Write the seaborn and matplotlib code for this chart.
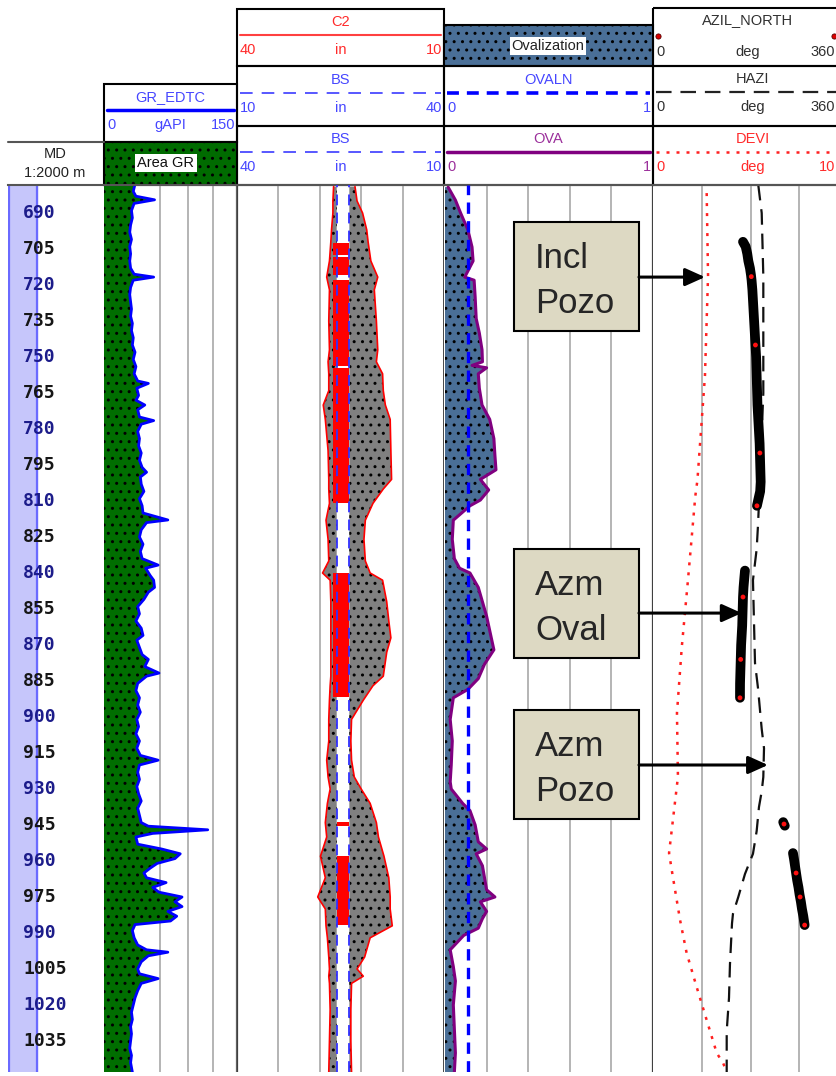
import numpy as np
import pandas as pd
import seaborn as sns
import matplotlib.pyplot as plt
import matplotlib.patches as mpatches
import matplotlib.transforms as mtransforms

sns.set_style('white')
plt.rcParams['font.family'] = ['Liberation Sans', 'DejaVu Sans']
plt.rcParams['hatch.linewidth'] = 1.0

W, H = 837, 1076
Y0, Y1 = 185, 1072            # image rows of the log area
TOP, BOT = 678.33, 1047.92    # measured depth at those rows

depth_ticks = [690, 705, 720, 735, 750, 765, 780, 795, 810, 825, 840, 855,
               870, 885, 900, 915, 930, 945, 960, 975, 990, 1005, 1020, 1035]

# GR_EDTC (gAPI)
gr_md = [678, 681, 683, 684.5, 686, 689, 692, 695, 698, 701, 704, 707, 710, 713, 715.5, 716.7, 718,
         721, 724, 727, 730, 733, 736, 739, 742, 745, 748, 751, 754, 757, 760, 761, 763, 766, 768,
         770, 772, 775, 776.5, 778, 781, 784, 787, 790, 793, 796, 798, 800, 803, 806, 809, 812, 815,
         817.9, 819, 822, 825, 828, 831, 834, 836.7, 838, 841, 843, 846, 848, 851, 854, 857, 860,
         863, 866, 868, 871, 874, 876, 879, 881.7, 883, 886, 889, 892, 895, 898, 901, 904, 907, 910,
         913, 916, 918, 920, 923, 926, 929, 932, 935, 938, 941, 944, 945.5, 947, 948.5, 950, 953,
         955, 957, 959, 961, 963, 965, 967, 969, 971, 973, 975, 977, 979, 981, 983, 985, 986.5, 989,
         992, 995, 997, 998, 999.5, 1002, 1005, 1007, 1009, 1011, 1014, 1017, 1020, 1023, 1026, 1029,
         1032, 1035, 1038, 1041, 1044, 1048]
gr_api = [35, 33, 36, 57, 34, 31, 32, 30, 29, 31, 29, 30, 29, 30, 34, 56, 33,
          30, 29, 30, 31, 30, 32, 31, 33, 32, 35, 33, 36, 34, 38, 50, 37, 39, 36,
          46, 38, 40, 56, 42, 38, 40, 39, 42, 40, 43, 48, 41, 42, 45, 40, 43, 44,
          72, 48, 42, 40, 44, 41, 43, 61, 47, 52, 56, 57, 50, 45, 38, 40, 36,
          42, 44, 37, 40, 43, 50, 46, 62, 48, 38, 36, 40, 38, 41, 37, 39, 36, 40,
          37, 41, 61, 40, 38, 40, 37, 39, 42, 38, 40, 42, 50, 117, 55, 36, 38,
          65, 86, 80, 60, 52, 45, 48, 70, 55, 62, 88, 80, 88, 72, 82, 75, 35, 32,
          34, 38, 48, 72, 50, 42, 38, 40, 61, 42, 38, 35, 33, 31, 32, 30,
          31, 30, 29, 31, 30, 32]
gr_grid = [63, 95, 123]

# Caliper track (in), left and right borehole walls
cal_md = [679, 685, 690, 697, 702, 710, 716.7, 722, 735, 747, 752, 757, 764, 770, 776, 789, 801,
          805, 811, 818, 826, 835, 840, 843, 852, 860, 867, 873, 883, 887, 893, 901, 910, 918, 925,
          930, 936, 944, 950, 958, 967, 975, 980, 987, 992, 1000, 1005, 1008, 1011, 1022, 1035, 1048]
cal_left = [24.0, 23.9, 23.9, 23.7, 23.6, 23.4, 23.0, 23.4, 23.3, 23.4, 23.2, 23.3, 23.3, 22.5, 22.8,
            23.2, 23.3, 23.3, 23.4, 22.9, 23.2, 23.3, 22.4, 23.5, 23.6, 23.6, 23.6, 23.6, 23.6, 23.5,
            23.4, 23.3, 23.3, 23.0, 23.2, 23.5, 23.1, 22.8, 23.0, 22.1, 22.8, 21.7, 22.8, 22.9, 23.1,
            23.3, 23.4, 23.3, 23.4, 23.5, 23.4, 23.3]
cal_right = [27.1, 27.4, 28.2, 28.8, 29.0, 29.4, 30.4, 29.9, 30.2, 30.4, 30.2, 31.1, 31.2, 31.5, 32.2,
             32.3, 32.4, 31.2, 29.7, 28.6, 28.4, 28.6, 29.3, 31.1, 31.7, 32.0, 32.3, 31.7, 31.2, 29.7,
             28.3, 26.6, 26.5, 26.6, 27.0, 28.0, 29.3, 30.2, 30.5, 31.3, 32.0, 32.2, 32.2, 32.5, 29.3,
             28.5, 27.4, 28.3, 26.6, 26.5, 26.5, 26.6]
bs_left, bs_right = 24.45, 26.28
cal_grid = [16, 22, 28, 34]
wash_top = [702.5, 708.4, 717.9, 754.4, 840.0, 943.7, 957.9]
wash_bot = [707.6, 715.8, 753.6, 810.8, 891.7, 945.3, 986.7]
wash_left = [23.87, 23.87, 23.87, 23.87, 23.87, 24.45, 24.45]

# Ovalization
ova_md = [679.2, 684.6, 690, 697, 704.2, 710, 716.7, 718, 725, 734, 740, 747, 752, 753.5, 754.5, 757,
          763, 770, 776, 784, 791, 797, 801, 805.4, 809.6, 812, 818, 826, 834, 838, 840, 846, 852, 858,
          866, 872, 878, 884, 888.5, 892, 901, 910, 920, 927, 930, 936, 939, 945, 952, 955, 957, 962,
          972, 975, 977, 981, 984, 988, 991, 997, 1004, 1010, 1020, 1030, 1040, 1048]
ova = [.015, .05, .075, .11, .13, .135, .095, .14, .145, .15, .165, .178, .18, .13, .2, .16,
       .165, .178, .215, .235, .24, .245, .17, .21, .17, .12, .04, .035, .045, .07, .12, .16, .18, .2,
       .22, .235, .19, .16, .11, .04, .025, .035, .03, .025, .03, .085, .12, .145, .16, .2, .15, .18,
       .2, .24, .17, .2, .18, .16, .09, .025, .04, .05, .04, .045, .05, .045]
ovaln = 0.11
ova_grid = [0.2, 0.4, 0.6, 0.8]

# Deviation (deg, 0-10) and azimuths (deg, 0-360)
devi_md = [681.7, 716.3, 757.9, 801.3, 808, 842.9, 870.8, 898.3, 925, 942.9, 956.7, 963.8, 984.6,
           998.3, 1012.5, 1026.3, 1040, 1044.2, 1048]
devi = [2.73, 2.80, 2.64, 2.25, 2.14, 1.76, 1.44, 1.19, 1.24, 0.98, 0.78, 0.92, 1.35, 1.69, 2.21,
        2.73, 3.25, 3.58, 3.78]
hazi_md = [678.3, 690, 716.3, 765, 801.3, 820, 830, 843, 877.5, 888, 905, 913, 925, 931, 937.5,
           947.5, 957, 965.4, 975, 982, 986, 1003, 1017, 1031, 1048]
hazi = [194.5, 200.9, 203.9, 203.9, 197.7, 194, 191.5, 184.6, 188.4, 194, 200.9, 205.2, 203.9, 200.9,
        195.8, 191.5, 184.6, 169.7, 157.2, 147.3, 145.5, 141.7, 139.9, 135.6, 135.6]
azil_md = [702, 704, 707, 710, 713, 716, 718, 722, 726, 730, 734, 738, 742, 746, 750, 754, 758, 762,
           766, 770, 774, 778, 782, 786, 790, 794, 798, 802, 806, 809, 812, np.nan,
           839, 842, 846, 850, 854, 858, 862, 866, 870, 874, 878, 882, 886, 890, 892, np.nan,
           943.8, 944.6, 945.3, np.nan,
           956.7, 959, 962, 965, 968, 971, 974, 977, 980, 983, 986.7]
azil = [166, 171, 174, 176, 179, 181, 182, 183.5, 184.5, 185.5, 186.5, 187.5, 188.5, 189.5, 190.5,
        191, 191.5, 192, 192.5, 193, 194, 195, 196, 197, 197.5, 198, 198.5, 199, 198, 195, 192, np.nan,
        169.7, 168.5, 167, 166, 165.5, 165, 164.5, 163.5, 162.5, 162, 161.5, 161, 160.5, 160.4, 160.4,
        np.nan, 241, 242.5, 244, np.nan,
        259.2, 261, 263, 265, 267, 269.5, 271.5, 274, 276, 278.5, 281]
azil_red_md = [716.5, 745, 790, 812, 850, 876, 892, 944.6, 965, 975, 986.7]
azil_red = [181.5, 189.2, 197.5, 192, 166, 161.7, 160.4, 242.5, 265, 272.5, 281]
az_grid = [90, 180, 270]

# call-out boxes: label lines, target track, target value, target depth
notes = [('Incl', 'Pozo', 'devi', 2.64, 716.7),
         ('Azm', 'Oval', 'az', 163.6, 856.7),
         ('Azm', 'Pozo', 'az', 212.6, 920.0)]
note_rows = [222, 549, 710]

gr = pd.DataFrame({'md': gr_md, 'gr': gr_api})
cal = pd.DataFrame({'md': cal_md, 'left': cal_left, 'right': cal_right})
ovd = pd.DataFrame({'md': ova_md, 'ova': ova})
dev = pd.DataFrame({'md': devi_md, 'devi': devi})
haz = pd.DataFrame({'md': hazi_md, 'hazi': hazi})

BLUE_T = '#4646ff'
RED_T = '#ff2a2a'
PURP_T = '#9b2f9b'
GRID = '#b4b4b4'

fig = plt.figure(figsize=(W / 100, H / 100), dpi=100)

# ---- header, drawn in image pixels
hdr = fig.add_axes([0, 0, 1, 1])
hdr.set_xlim(0, W)
hdr.set_ylim(H, 0)
hdr.axis('off')


def box(x, y, w, h, **kw):
    kw.setdefault('fill', False)
    hdr.add_patch(mpatches.Rectangle((x, y), w, h, ec='black', lw=1.5, **kw))


def htxt(x, y, s, color='#303030', ha='center', **kw):
    hdr.text(x, y, s, color=color, ha=ha, va='center', fontsize=10.5, **kw)


def hrow(x0, x1, y, name, color, line_kw, lo, unit, hi, hi_x=None):
    htxt((x0 + x1) / 2, y + 13, name, color)
    hdr.plot([x0 + 3, x1 - 3], [y + 26, y + 26], color=line_kw.pop('color', color), **line_kw)
    htxt(x0 + 3, y + 41, lo, color, ha='left')
    if unit:
        htxt((x0 + x1) / 2, y + 41, unit, color)
    htxt(hi_x if hi_x else x1 - 2, y + 41, hi, color, ha='right')


# depth header
hdr.plot([8, 104], [142, 142], color='#555555', lw=1.5)
htxt(55, 154, 'MD', '#222222')
htxt(55, 173, '1:2000 m', '#222222')

# GR header
box(104, 84, 133, 58)
hrow(104, 237, 84, 'GR_EDTC', BLUE_T, dict(color='#0000ff', lw=2.5), '0', 'gAPI', '150')
box(104, 142, 133, 43, fill=True, fc='#006b00', hatch='..')
htxt(166, 163, 'Area GR', '#111111', bbox=dict(fc='white', ec='none', pad=1.5))

# caliper header
for y, h in [(9, 57), (66, 60), (126, 59)]:
    box(237, y, 207, h)
hrow(237, 444, 9, 'C2', RED_T, dict(color='#ff4040', lw=1.5), '40', 'in', '10')
hrow(237, 444, 67, 'BS', BLUE_T, dict(color='#4a4aff', lw=1.3, ls=(0, (7, 5))), '10', 'in', '40')
hrow(237, 444, 126, 'BS', BLUE_T, dict(color='#4a4aff', lw=1.3, ls=(0, (7, 5))), '40', 'in', '10')

# ovalization header
box(444, 25, 209, 41, fill=True, fc='#4a6f97', hatch='..')
htxt(548, 46, 'Ovalization', '#222222', bbox=dict(fc='white', ec='none', pad=1.5))
box(444, 66, 209, 60)
box(444, 126, 209, 59)
hrow(444, 653, 67, 'OVALN', BLUE_T, dict(color='#0000ff', lw=2.6, ls=(0, (3.3, 2.2))), '0', '', '1')
hrow(444, 653, 126, 'OVA', PURP_T, dict(color='#800080', lw=2.5), '0', '', '1')

# azimuth header (its box runs past the right edge)
for y, h in [(8, 58), (66, 60), (126, 59)]:
    box(653, y, 200, h)
htxt(748, 20, 'AZIL_NORTH')
hdr.scatter([658, 834], [36, 36], s=14, c='#dd0000', edgecolors='#550000', linewidths=0.6, zorder=3)
htxt(656, 52, '0', ha='left')
htxt(748, 52, 'deg')
htxt(835, 52, '360', ha='right')
hrow(653, 853, 66, 'HAZI', '#303030', dict(color='#222222', lw=1.6, ls=(0, (7, 4))), '0', 'deg', '360', 835)
hrow(653, 853, 126, 'DEVI', RED_T, dict(color='#ff2020', lw=1.8, ls=(0, (1.2, 2.8))), '0', 'deg', '10', 835)


# ---- log tracks
def track(x0, x1, xlim, grid=()):
    ax = fig.add_axes([x0 / W, (H - Y1) / H, (x1 - x0) / W, (Y1 - Y0) / H])
    ax.set_xlim(*xlim)
    ax.tick_params(length=0, labelbottom=False, labelleft=False)
    for s in ax.spines.values():
        s.set_visible(False)
    ax.spines['top'].set_visible(True)
    ax.spines['top'].set_color('#555555')
    ax.spines['top'].set_linewidth(1.5)
    for g in grid:
        ax.axvline(g, color=GRID, lw=1.4, zorder=0)
    ax.set_facecolor('none')
    return ax


def finish(ax, xlim):
    ax.set_xlim(*xlim)
    ax.set_ylim(BOT, TOP)
    ax.set_xlabel('')
    ax.set_ylabel('')


# depth track
ax_md = track(8, 104, (0, 96))
ax_md.axvspan(0, 29, color='#c6c6fb', zorder=0)
ax_md.axvline(0.8, color='#6a6aff', lw=1.6)
ax_md.axvline(29, color='#6a6aff', lw=1.6)
for i, d in enumerate(depth_ticks):
    ax_md.text(15, d, str(d), ha='left', va='center', fontsize=13, fontweight='bold',
               family='DejaVu Sans Mono', color=['#1c1c8a', '#161616'][i % 2])
finish(ax_md, (0, 96))

# GR track
ax_gr = track(104, 237, (0, 150), gr_grid)
ax_gr.fill_betweenx(gr.md, 0, gr.gr, facecolor='#006e00', edgecolor='black', hatch='..', lw=0, zorder=1)
sns.lineplot(data=gr, x='gr', y='md', orient='y', estimator=None, color='#0000ff', lw=2, ax=ax_gr, zorder=2)
ax_gr.axvline(150, color='#606060', lw=1.6)
finish(ax_gr, (0, 150))

# caliper track
ax_cal = track(237, 444, (10, 40), cal_grid)
ax_cal.fill_betweenx(cal.md, cal.left, bs_left, facecolor='#808080', edgecolor='black', hatch='..', lw=0, zorder=1)
ax_cal.fill_betweenx(cal.md, bs_right, cal.right, facecolor='#808080', edgecolor='black', hatch='..', lw=0, zorder=1)
for t, b, l in zip(wash_top, wash_bot, wash_left):
    ax_cal.fill_betweenx([t, b], l, bs_right, color='#ff0000', lw=0, zorder=2)
sns.lineplot(data=cal, x='left', y='md', orient='y', estimator=None, color='#ff0000', lw=1.2, ax=ax_cal, zorder=3)
sns.lineplot(data=cal, x='right', y='md', orient='y', estimator=None, color='#ff0000', lw=1.2, ax=ax_cal, zorder=3)
for b in (bs_left, bs_right):
    ax_cal.axvline(b, color='#3030ff', lw=1.3, ls=(0, (6, 4)), zorder=4)
ax_cal.axvline(10, color='#404040', lw=1.6)
ax_cal.axvline(40, color='#111111', lw=1.8)
finish(ax_cal, (10, 40))

# ovalization track
ax_ova = track(445, 653, (0, 1), ova_grid)
ax_ova.fill_betweenx(ovd.md, 0, ovd.ova, facecolor='#4a6f97', edgecolor='black', hatch='..', lw=0, zorder=1)
sns.lineplot(data=ovd, x='ova', y='md', orient='y', estimator=None, color='#800080', lw=2.2, ax=ax_ova, zorder=2)
ax_ova.axvline(ovaln, color='#0000ff', lw=2.4, ls=(0, (3.4, 2.2)), zorder=3)
ax_ova.axvline(1, color='#404040', lw=1.6)
finish(ax_ova, (0, 1))

# azimuth / deviation track
ax_az = track(654, 847, (0, 360), az_grid)
sns.lineplot(data=haz, x='hazi', y='md', orient='y', estimator=None, color='#111111', lw=1.6,
             ls=(0, (7, 4)), ax=ax_az, zorder=2)
ax_az.plot(azil, azil_md, color='black', lw=7, solid_capstyle='round', zorder=3)
sns.scatterplot(x=azil_red, y=azil_red_md, color='#ff1010', s=12, edgecolor='none', ax=ax_az, zorder=4)
finish(ax_az, (0, 360))

ax_dev = ax_az.twiny()
for s in ax_dev.spines.values():
    s.set_visible(False)
ax_dev.tick_params(length=0, labeltop=False, labelbottom=False)
sns.lineplot(data=dev, x='devi', y='md', orient='y', estimator=None, color='#ff2020', lw=1.8,
             ls=(0, (1.2, 2.8)), ax=ax_dev, zorder=2)
finish(ax_dev, (0, 10))

# ---- call-out boxes on top of everything
top = fig.add_axes([0, 0, 1, 1])
top.set_xlim(0, W)
top.set_ylim(H, 0)
top.axis('off')
targets = {'devi': ax_dev, 'az': ax_az}
for (l1, l2, trk, val, md), y in zip(notes, note_rows):
    tax = targets[trk]
    top.add_patch(mpatches.Rectangle((514, y), 125, 109, fc='#ddd9c3', ec='black', lw=1.5, zorder=2))
    top.text(535, y + 46, l1, fontsize=25, va='baseline', ha='left', zorder=3)
    top.text(535, y + 91, l2, fontsize=25, va='baseline', ha='left', zorder=3)
    start = mtransforms.blended_transform_factory(top.transData, tax.transData)
    top.annotate('', xy=(val, md), xycoords=tax.transData, xytext=(639, md),
                 textcoords=start, annotation_clip=False,
                 arrowprops=dict(arrowstyle='-|>,head_length=0.6,head_width=0.27', color='black',
                                 lw=2.2, mutation_scale=20, shrinkA=0, shrinkB=0))

fig.savefig('out.png', dpi=100)
